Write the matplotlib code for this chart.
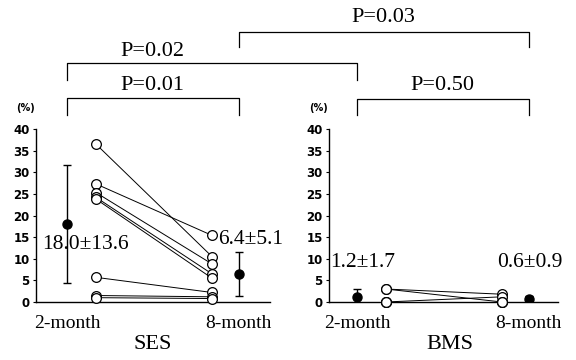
import matplotlib
matplotlib.use("Agg")
import matplotlib.pyplot as plt
from matplotlib.lines import Line2D

# ---- data ----
timepoints = ["2-month", "8-month"]
panels = ["SES", "BMS"]
ses_2m = [36.5, 27.3, 25.3, 24.2, 23.8, 5.7, 1.5, 1.0]
ses_8m = [10.5, 15.4, 8.8, 6.5, 5.5, 2.2, 1.2, 0.8]
bms_2m = [3.0, 3.0, 0.0, 0.0, 0.0]
bms_8m = [1.8, 0.0, 1.2, 0.0, 0.0]
ses_mean = [18.0, 6.4]
ses_sd = [13.6, 5.1]
bms_mean = [1.2, 0.6]
bms_sd = [1.7, 0.9]
y_ticks = [0, 5, 10, 15, 20, 25, 30, 35, 40]
p_labels = ["P=0.01", "P=0.02", "P=0.03", "P=0.50"]

SERIF = "Liberation Serif"
SANS = "DejaVu Sans"

fig = plt.figure(figsize=(5.76, 3.6), dpi=100)
W, H = 576.0, 360.0

ax1 = fig.add_axes([36 / W, 1 - 302 / H, 234 / W, 173 / H])
ax2 = fig.add_axes([329 / W, 1 - 302 / H, 229 / W, 173 / H])

mean_pos = [-0.25, 1.23]


def draw_panel(ax, v2, v8, means, sds, xlim, name, txt_specs, label_x):
    for a, b in zip(v2, v8):
        ax.plot([0, 1], [a, b], color="black", lw=0.7, zorder=2)
    ax.plot([0] * len(v2), v2, "o", ms=7, mfc="white", mec="black", mew=0.9, zorder=3, clip_on=False)
    ax.plot([1] * len(v8), v8, "o", ms=7, mfc="white", mec="black", mew=0.9, zorder=3, clip_on=False)
    ax.errorbar(mean_pos, means, yerr=sds, fmt="o", ms=6.5, color="black",
                ecolor="black", elinewidth=1.0, capsize=3, capthick=1.0, zorder=4)
    ax.set_xlim(*xlim)
    ax.set_ylim(0, 40)
    ax.set_yticks(y_ticks)
    ax.set_yticklabels([str(t) for t in y_ticks], fontfamily=SANS, fontweight="bold", fontsize=8.5)
    ax.set_xticks(mean_pos)
    ax.set_xticklabels(timepoints, fontfamily=SERIF, fontsize=14)
    ax.tick_params(axis="x", length=0, pad=9)
    ax.tick_params(axis="y", length=2.5, width=0.8, pad=2)
    for s in ["top", "right"]:
        ax.spines[s].set_visible(False)
    ax.spines["left"].set_linewidth(1.0)
    ax.spines["bottom"].set_linewidth(1.0)
    ax.set_xlabel(name, fontfamily=SERIF, fontsize=16)
    ax.xaxis.set_label_coords(label_x, -0.19)
    ax.text(-0.045, 1.12, "(%)", transform=ax.transAxes, fontfamily=SANS,
            fontweight="bold", fontsize=7, ha="center", va="center")
    for (x, y, t) in txt_specs:
        ax.text(x, y, t, fontfamily=SERIF, fontsize=15.5, ha="left", va="center", zorder=5)


draw_panel(ax1, ses_2m, ses_8m, ses_mean, ses_sd, (-0.517, 1.5), panels[0],
           [(-0.46, 13.2, f"{ses_mean[0]:.1f}\u00b1{ses_sd[0]:.1f}"),
            (1.05, 14.5, f"{ses_mean[1]:.1f}\u00b1{ses_sd[1]:.1f}")], 0.5)
draw_panel(ax2, bms_2m, bms_8m, bms_mean, bms_sd, (-0.491, 1.483), panels[1],
           [(-0.48, 9.2, f"{bms_mean[0]:.1f}\u00b1{bms_sd[0]:.1f}"),
            (0.955, 9.2, f"{bms_mean[1]:.1f}\u00b1{bms_sd[1]:.1f}")], 0.528)

inv = fig.transFigure.inverted()


def fx(ax, x):
    return inv.transform(ax.transData.transform((x, 0)))[0]


# brackets: (axA, posA, axB, posB, top_px, leg_px, label, label_frac, label_y_px)
brackets = [
    (ax1, mean_pos[0], ax1, mean_pos[1], 98, 115, p_labels[0], 0.5, 86),
    (ax1, mean_pos[0], ax2, mean_pos[0], 63, 80, p_labels[1], 0.296, 51),
    (ax1, mean_pos[1], ax2, mean_pos[1], 32, 47, p_labels[2], 0.5, 17),
    (ax2, mean_pos[0], ax2, mean_pos[1], 99, 115, p_labels[3], 0.5, 85),
]
for axA, pA, axB, pB, top, leg, lab, frac, ly in brackets:
    x1, x2 = fx(axA, pA), fx(axB, pB)
    yt, yl = 1 - top / H, 1 - leg / H
    fig.add_artist(Line2D([x1, x1, x2, x2], [yl, yt, yt, yl], transform=fig.transFigure,
                          color="black", lw=0.9))
    fig.text(x1 + (x2 - x1) * frac, 1 - ly / H, lab, fontfamily=SERIF, fontsize=16,
             ha="center", va="center")

fig.savefig("out.png", dpi=100)
